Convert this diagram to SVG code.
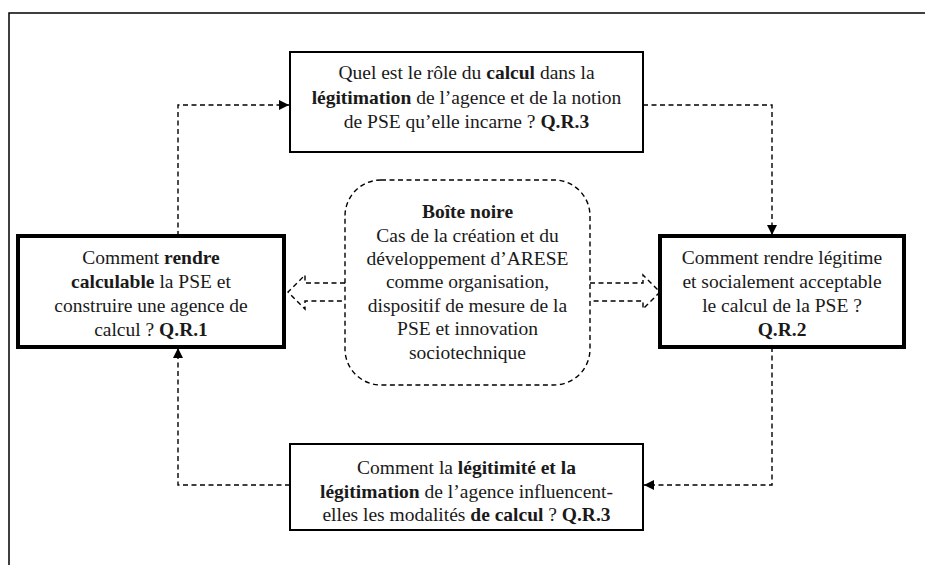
<svg xmlns="http://www.w3.org/2000/svg" width="925" height="565" viewBox="0 0 925 565">
<defs>
<marker id="ah" viewBox="0 0 10 10" refX="10" refY="5" markerWidth="10" markerHeight="10" markerUnits="userSpaceOnUse" orient="auto">
<path d="M0,0 L10,5 L0,10 z" fill="#000"/>
</marker>
<style>
text{font-family:"Liberation Serif","Times New Roman",serif;font-size:19.5px;fill:#1a1a1a;text-anchor:middle}
.b{font-weight:bold}
.box{fill:#fff;stroke:#000;stroke-width:2}
.tbox{fill:#fff;stroke:#000;stroke-width:4}
.dash{fill:none;stroke:#000;stroke-width:1.4;stroke-dasharray:5,3.5}
</style>
</defs>
<rect width="925" height="565" fill="#fff"/>
<path d="M9,565 V13 H925" fill="none" stroke="#000" stroke-width="1.5"/>
<g id="connectors">
<path class="dash" d="M178,236 V105 H289" marker-end="url(#ah)"/>
<path class="dash" d="M643,105 H772 V235" marker-end="url(#ah)"/>
<path class="dash" d="M772,347 V485 H644" marker-end="url(#ah)"/>
<path class="dash" d="M290,485 H178 V348" marker-end="url(#ah)"/>
<path class="dash" d="M345,283 H305 V275 L288,292 L305,309 V301 H345"/>
<path class="dash" d="M590,283 H643 V275 L660,292 L643,309 V301 H590"/>
</g>
<g id="top">
<rect class="box" x="290" y="52" width="353" height="100"/>
<text x="466.5" y="79">Quel est le rôle du <tspan class="b">calcul</tspan> dans la</text>
<text x="466.5" y="104"><tspan class="b">légitimation</tspan> de l’agence et de la notion</text>
<text x="466.5" y="128">de PSE qu’elle incarne ? <tspan class="b">Q.R.3</tspan></text>
</g>
<g id="left">
<rect class="tbox" x="18" y="236" width="266" height="111"/>
<text x="151" y="264">Comment <tspan class="b">rendre</tspan></text>
<text x="151" y="288"><tspan class="b">calculable</tspan> la PSE et</text>
<text x="151" y="312">construire une agence de</text>
<text x="151" y="336">calcul ? <tspan class="b">Q.R.1</tspan></text>
</g>
<g id="right">
<rect class="tbox" x="660" y="236" width="244" height="111"/>
<text x="782" y="264">Comment rendre légitime</text>
<text x="782" y="288">et socialement acceptable</text>
<text x="782" y="312">le calcul de la PSE ?</text>
<text x="782" y="336" class="b">Q.R.2</text>
</g>
<g id="bottom">
<rect class="box" x="290" y="444" width="353" height="86"/>
<text x="466.5" y="474">Comment la <tspan class="b">légitimité et la</tspan></text>
<text x="466.5" y="498"><tspan class="b">légitimation</tspan> de l’agence influencent-</text>
<text x="466.5" y="521">elles les modalités <tspan class="b">de calcul</tspan> ? <tspan class="b">Q.R.3</tspan></text>
</g>
<g id="center">
<rect class="dash" x="345" y="180" width="245" height="205" rx="36" ry="36"/>
<text x="467.5" y="218" class="b">Boîte noire</text>
<text x="467.5" y="242">Cas de la création et du</text>
<text x="467.5" y="265">développement d’ARESE</text>
<text x="467.5" y="288">comme organisation,</text>
<text x="467.5" y="312">dispositif de mesure de la</text>
<text x="467.5" y="335">PSE et innovation</text>
<text x="467.5" y="359">sociotechnique</text>
</g>
</svg>
